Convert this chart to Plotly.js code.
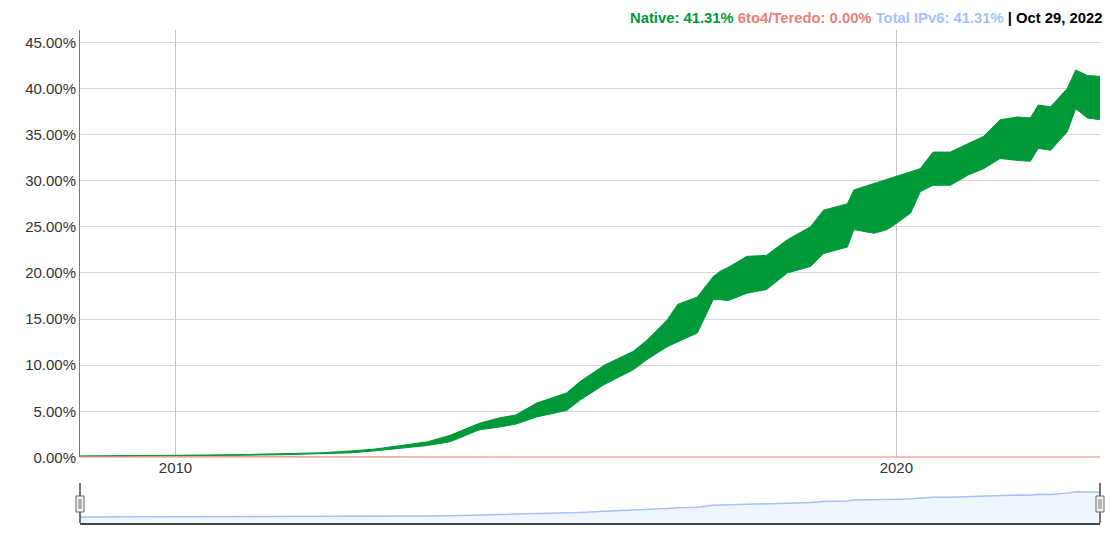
<!DOCTYPE html>
<html>
<head>
<meta charset="utf-8">
<script src="https://cdn.plot.ly/plotly-3.0.1.min.js"></script>
<style>
  html, body { margin: 0; padding: 0; background: #fff; }
  #chart { width: 1110px; height: 536px; }
</style>
</head>
<body>
<div id="chart"></div>
<script>
// Sample dates along the series (daily data shown as weekly low/high envelope)
var dates = [
  '2008-09-04','2009-01-01','2009-07-01','2010-01-01','2010-07-01','2011-01-01','2011-07-01',
  '2012-01-01','2012-06-03','2012-10-01','2013-02-10','2013-07-01','2013-10-23','2014-03-20',
  '2014-07-01','2014-09-20','2015-01-05','2015-06-06','2015-08-11','2015-12-13','2016-05-08',
  '2016-07-16','2016-10-27','2016-12-20','2017-03-29','2017-06-17','2017-07-24','2017-09-01',
  '2017-12-05','2018-03-14','2018-06-28','2018-10-23','2018-12-28','2019-04-28','2019-05-31',
  '2019-09-09','2019-11-17','2020-01-23','2020-03-14','2020-05-01','2020-07-05','2020-10-01',
  '2020-12-28','2021-03-18','2021-06-10','2021-09-06','2021-11-10','2021-12-20','2022-02-21',
  '2022-05-16','2022-06-28','2022-08-26','2022-10-29'
];
// Native IPv6 share (%) - weekday lows
var nativeLow = [
  0.13,0.14,0.15,0.18,0.20,0.25,0.30,
  0.38,0.50,0.70,1.00,1.30,1.70,3.00,
  3.30,3.60,4.40,5.10,6.20,7.90,9.50,
  10.6,12.0,12.5,13.5,17.1,17.1,17.0,
  17.8,18.2,20.0,20.7,22.1,22.8,24.7,
  24.3,24.7,25.7,26.5,28.8,29.5,29.5,
  30.6,31.3,32.4,32.2,32.1,33.5,33.3,
  35.3,37.8,36.8,36.6
];
// Native IPv6 share (%) - weekend highs
var nativeHigh = [
  0.16,0.17,0.19,0.24,0.27,0.33,0.40,
  0.50,0.70,0.90,1.28,1.70,2.40,3.70,
  4.30,4.60,5.90,7.00,8.20,10.0,11.5,
  12.7,14.9,16.6,17.4,19.6,20.2,20.6,
  21.8,21.9,23.6,25.0,26.8,27.5,29.0,
  29.7,30.1,30.6,31.0,31.3,33.1,33.1,
  34.0,34.8,36.6,36.9,36.8,38.2,38.0,
  40.0,42.0,41.4,41.3
];
// 6to4/Teredo share (%)
var teredoDates = ['2008-09-04','2010-01-01','2012-01-01','2014-01-01','2016-01-01','2022-10-29'];
var teredoVals  = [0.02, 0.03, 0.02, 0.01, 0.0, 0.0];

// Total IPv6 (overview strip): midpoint of native envelope plus 6to4/Teredo ~0
var totalIPv6 = nativeLow.map(function(v, i){ return (v + nativeHigh[i]) / 2; });

var GREEN = '#00993a', RED = '#ec8079', BLUE = '#a4c2f4';

var traces = [
  { x: dates, y: nativeLow, type: 'scatter', mode: 'lines',
    line: { color: GREEN, width: 1 }, hoverinfo: 'skip', showlegend: false,
    xaxis: 'x', yaxis: 'y' },
  { x: dates, y: nativeHigh, type: 'scatter', mode: 'lines', fill: 'tonexty',
    fillcolor: GREEN, line: { color: GREEN, width: 1 }, showlegend: false,
    xaxis: 'x', yaxis: 'y' },
  { x: teredoDates, y: teredoVals, type: 'scatter', mode: 'lines',
    line: { color: RED, width: 2 }, showlegend: false, xaxis: 'x', yaxis: 'y' },
  { x: dates, y: totalIPv6, type: 'scatter', mode: 'lines', fill: 'tozeroy',
    fillcolor: '#eef5fd', line: { color: BLUE, width: 1.5 }, showlegend: false,
    xaxis: 'x2', yaxis: 'y2' }
];

var xRange = ['2008-09-04', '2022-10-29'];
var FONT = 'Liberation Sans, Arial, sans-serif';

var layout = {
  width: 1110, height: 536,
  margin: { l: 80, r: 10, t: 30, b: 13 },
  paper_bgcolor: '#fff', plot_bgcolor: 'rgba(0,0,0,0)',
  font: { family: FONT, size: 15, color: '#333' },
  showlegend: false,
  xaxis: {
    type: 'date', range: xRange, domain: [0, 1], anchor: 'y',
    tick0: '2010-01-01', dtick: 'M120', tickformat: '%Y',
    showgrid: true, gridcolor: '#c4c4c4', gridwidth: 1,
    showline: false, zeroline: false, ticks: '',
    tickfont: { size: 15, color: '#333' }
  },
  yaxis: {
    range: [0, 46.33], domain: [0.1329, 1], anchor: 'x',
    dtick: 5, tick0: 0, tickformat: '.2f', ticksuffix: '%',
    showgrid: true, gridcolor: '#d6d6d6', gridwidth: 1,
    showline: true, linecolor: '#777', linewidth: 1,
    zeroline: false, ticks: '',
    tickfont: { size: 15, color: '#333' }
  },
  xaxis2: {
    type: 'date', range: xRange, domain: [0, 1], anchor: 'y2',
    showgrid: false, showticklabels: false, zeroline: false,
    showline: true, linecolor: '#444', linewidth: 1.5, ticks: ''
  },
  yaxis2: {
    range: [-9.5, 50.5], domain: [0, 0.0771], anchor: 'x2',
    showgrid: false, showticklabels: false, zeroline: false, showline: false, ticks: ''
  },
  shapes: [
    { type: 'rect', xref: 'x2 domain', yref: 'y2', x0: 0, x1: 1, y0: -9.5, y1: 0,
      fillcolor: '#eef5fd', line: { width: 0 }, layer: 'below' },
    { type: 'line', xref: 'x2 domain', yref: 'y2 domain', x0: 0, x1: 0, y0: 0, y1: 1.05,
      line: { color: '#444', width: 1.5 } },
    { type: 'line', xref: 'x2 domain', yref: 'y2 domain', x0: 1, x1: 1, y0: 0, y1: 1.05,
      line: { color: '#444', width: 1.5 } },
    { type: 'rect', xref: 'x2 domain', yref: 'y2 domain', xsizemode: 'pixel', ysizemode: 'pixel',
      xanchor: 0, yanchor: 0.5, x0: -4, x1: 4, y0: -8, y1: 8,
      fillcolor: '#f2f2f2', line: { color: '#666', width: 1 } },
    { type: 'rect', xref: 'x2 domain', yref: 'y2 domain', xsizemode: 'pixel', ysizemode: 'pixel',
      xanchor: 1, yanchor: 0.5, x0: -4, x1: 4, y0: -8, y1: 8,
      fillcolor: '#f2f2f2', line: { color: '#666', width: 1 } },
    { type: 'line', xref: 'x2 domain', yref: 'y2 domain', xsizemode: 'pixel', ysizemode: 'pixel',
      xanchor: 0, yanchor: 0.5, x0: -1, x1: -1, y0: -5, y1: 5, line: { color: '#777', width: 1 } },
    { type: 'line', xref: 'x2 domain', yref: 'y2 domain', xsizemode: 'pixel', ysizemode: 'pixel',
      xanchor: 0, yanchor: 0.5, x0: 1, x1: 1, y0: -5, y1: 5, line: { color: '#777', width: 1 } },
    { type: 'line', xref: 'x2 domain', yref: 'y2 domain', xsizemode: 'pixel', ysizemode: 'pixel',
      xanchor: 1, yanchor: 0.5, x0: -1, x1: -1, y0: -5, y1: 5, line: { color: '#777', width: 1 } },
    { type: 'line', xref: 'x2 domain', yref: 'y2 domain', xsizemode: 'pixel', ysizemode: 'pixel',
      xanchor: 1, yanchor: 0.5, x0: 1, x1: 1, y0: -5, y1: 5, line: { color: '#777', width: 1 } }
  ],
  annotations: [
    { xref: 'paper', yref: 'paper', x: 1, y: 1, xanchor: 'right', yanchor: 'middle',
      xshift: 4, yshift: 12, showarrow: false,
      font: { family: FONT, size: 14.8, color: '#000' },
      text: '<b><span style="color:' + GREEN + '">Native: 41.31%</span> ' +
            '<span style="color:' + RED + '">6to4/Teredo: 0.00%</span> ' +
            '<span style="color:' + BLUE + '">Total IPv6: 41.31%</span> ' +
            '<span style="color:#000">| Oct 29, 2022</span></b>' }
  ]
};

Plotly.newPlot('chart', traces, layout, { displayModeBar: false, staticPlot: true });
</script>
</body>
</html>
